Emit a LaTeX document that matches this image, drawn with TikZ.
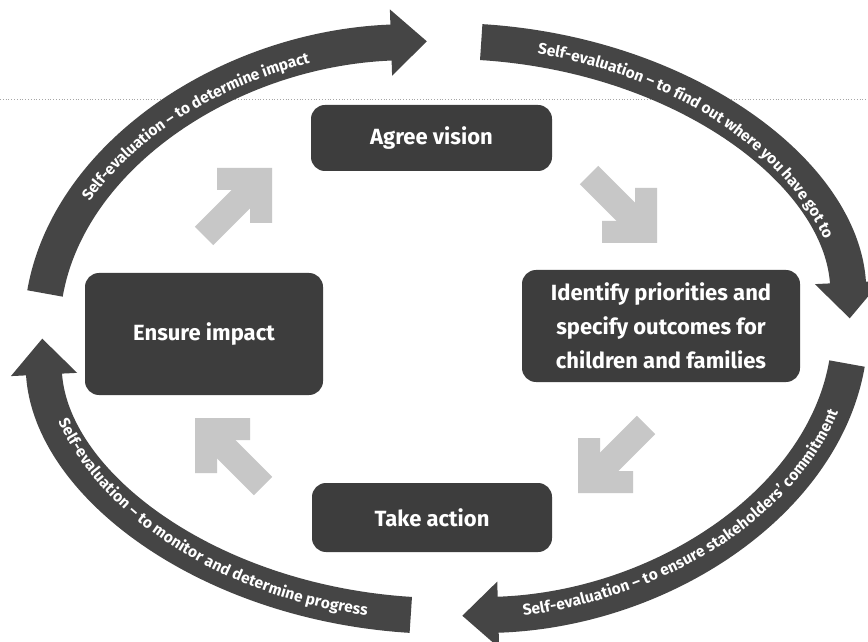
\documentclass[tikz,border=0pt]{standalone}
\usepackage{fontspec}
\setsansfont{Fira Sans}
\usetikzlibrary{arrows.meta,decorations.text}
\definecolor{boxgray}{gray}{0.24}
\definecolor{arcgray}{gray}{0.27}
\definecolor{arrowgray}{gray}{0.78}
\newcommand{\arcfont}{\sffamily\bfseries\fontsize{15.5}{15.5}\selectfont}
\begin{document}
\begin{tikzpicture}[x=1pt,y=1pt,
  box/.style={fill=boxgray, rounded corners=14pt, text=white,
    font=\sffamily\bfseries\fontsize{22}{34}\selectfont, align=center, inner sep=0pt},
  bigarc/.style={draw=arcgray, line width=36pt, -{Triangle[length=36pt,width=64pt]}},
  arctext/.style={decorate, decoration={text along path, text align=center,
    raise=-5.2pt, text color=white}},
  smallarrow/.pic={
    \fill[arrowgray] (0,0) -- (-55,0) -- (-55,-22) -- (-22,-22) -- (-22,-55) -- (0,-55) -- cycle;
    \fill[arrowgray] (-8.8,-27.2) -- (-27.2,-8.8) -- (-77.2,-58.8) -- (-58.8,-77.2) -- cycle;
  }
]
\useasboundingbox[fill=white] (0,0) rectangle (868,641);
\draw[black!35, dotted, line width=0.8pt] (0,542) -- (868,542);
\coordinate (c) at (446,312.5);

% boxes
\node[box, minimum width=241pt, minimum height=66pt] (agree) at (431.5,503) {Agree vision};
\node[box, minimum width=278pt, minimum height=112pt] (identify) at (661,315)
  {Identify priorities and\\specify outcomes for\\children and families};
\node[box, minimum width=240pt, minimum height=69pt] (action) at (432,123.5) {Take action};
\node[box, minimum width=238pt, minimum height=122pt] (ensure) at (204,307) {Ensure impact};

% small block arrows
\path (272,473) pic {smallarrow};
\path (657,398) pic[rotate=-90] {smallarrow};
\path (578,148) pic[rotate=180] {smallarrow};
\path (195,223) pic[rotate=90] {smallarrow};

% big curved arrows
\draw[bigarc] (c) ++(173:404pt and 287.5pt)
  arc[start angle=173, end angle=92.7, x radius=404pt, y radius=287.5pt];
\draw[bigarc] (c) ++(85:404pt and 287.5pt)
  arc[start angle=85, end angle=2, x radius=404pt, y radius=287.5pt];
\draw[bigarc] (c) ++(-7:404pt and 287.5pt)
  arc[start angle=-7, end angle=-87.7, x radius=404pt, y radius=287.5pt];
\draw[bigarc] (c) ++(-95:404pt and 287.5pt)
  arc[start angle=-95, end angle=-178, x radius=404pt, y radius=287.5pt];

% texts on the arcs
\path[arctext, decoration={text={|\arcfont|Self-evaluation – to determine impact}}]
  (c) ++(173:404pt and 287.5pt)
  arc[start angle=173, end angle=95, x radius=404pt, y radius=287.5pt];
\path[arctext, decoration={text={|\arcfont|Self-evaluation – to find out where you have got to}}]
  (c) ++(86:404pt and 287.5pt)
  arc[start angle=86, end angle=6, x radius=404pt, y radius=287.5pt];
\path[arctext, decoration={text={|\arcfont|Self-evaluation – to ensure stakeholders’ commitment}}]
  (c) ++(-86:404pt and 287.5pt)
  arc[start angle=-86, end angle=-7, x radius=404pt, y radius=287.5pt];
\path[arctext, decoration={text={|\arcfont|Self-evaluation – to monitor and determine progress}}]
  (c) ++(-170:404pt and 287.5pt)
  arc[start angle=-170, end angle=-95, x radius=404pt, y radius=287.5pt];
\end{tikzpicture}
\end{document}
